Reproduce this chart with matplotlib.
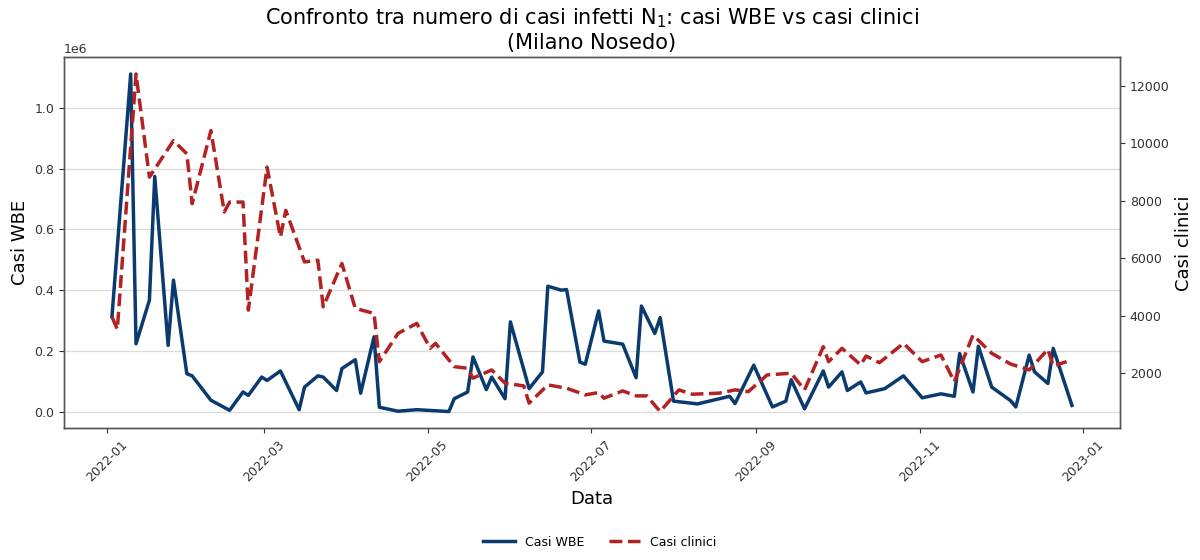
import matplotlib
matplotlib.use("Agg")
import matplotlib.pyplot as plt
import matplotlib.dates as mdates
import pandas as pd

# Wastewater-based estimate of infected cases (N1 gene), Milano Nosedo
wbe_dates = [
    "2022-01-03", "2022-01-10", "2022-01-12", "2022-01-17", "2022-01-19",
    "2022-01-24", "2022-01-26", "2022-01-31", "2022-02-02", "2022-02-09",
    "2022-02-16", "2022-02-21", "2022-02-23", "2022-02-28", "2022-03-02",
    "2022-03-07", "2022-03-14", "2022-03-16", "2022-03-21", "2022-03-23",
    "2022-03-28", "2022-03-30", "2022-04-04", "2022-04-06", "2022-04-11",
    "2022-04-13", "2022-04-20", "2022-04-27", "2022-05-09", "2022-05-11",
    "2022-05-16", "2022-05-18", "2022-05-23", "2022-05-25", "2022-05-30",
    "2022-06-01", "2022-06-08", "2022-06-13", "2022-06-15", "2022-06-20",
    "2022-06-22", "2022-06-27", "2022-06-29", "2022-07-04", "2022-07-06",
    "2022-07-13", "2022-07-18", "2022-07-20", "2022-07-25", "2022-07-27",
    "2022-08-01", "2022-08-10", "2022-08-22", "2022-08-24", "2022-08-31",
    "2022-09-07", "2022-09-12", "2022-09-14", "2022-09-19", "2022-09-26",
    "2022-09-28", "2022-10-03", "2022-10-05", "2022-10-10", "2022-10-12",
    "2022-10-19", "2022-10-26", "2022-11-02", "2022-11-09", "2022-11-14",
    "2022-11-16", "2022-11-21", "2022-11-23", "2022-11-28", "2022-12-05",
    "2022-12-07", "2022-12-12", "2022-12-14", "2022-12-19", "2022-12-21",
    "2022-12-28",
]
wbe_cases = [
    314000, 1110000, 225000, 368000, 774000,
    220000, 434000, 127000, 120000, 40000,
    7000, 67000, 56000, 116000, 105000,
    136000, 9000, 83000, 120000, 116000,
    72000, 144000, 173000, 63000, 248000,
    17000, 4000, 9000, 3000, 45000,
    67000, 182000, 75000, 116000, 45000,
    297000, 78000, 133000, 414000, 401000,
    403000, 165000, 158000, 333000, 234000,
    224000, 114000, 349000, 259000, 311000,
    37000, 28000, 53000, 29000, 155000,
    18000, 37000, 107000, 12000, 136000,
    83000, 133000, 72000, 100000, 64000,
    78000, 120000, 48000, 61000, 53000,
    193000, 67000, 217000, 83000, 39000,
    18000, 188000, 133000, 95000, 210000,
    23000,
]

# Reported clinical cases
clin_dates = [
    "2022-01-03", "2022-01-05", "2022-01-12", "2022-01-17", "2022-01-26",
    "2022-01-31", "2022-02-02", "2022-02-09", "2022-02-14", "2022-02-16",
    "2022-02-21", "2022-02-23", "2022-03-02", "2022-03-07", "2022-03-09",
    "2022-03-16", "2022-03-21", "2022-03-23", "2022-03-30", "2022-04-04",
    "2022-04-11", "2022-04-13", "2022-04-20", "2022-04-27", "2022-05-02",
    "2022-05-04", "2022-05-11", "2022-05-16", "2022-05-18", "2022-05-25",
    "2022-05-30", "2022-06-06", "2022-06-08", "2022-06-15", "2022-06-22",
    "2022-06-29", "2022-07-04", "2022-07-06", "2022-07-13", "2022-07-18",
    "2022-07-22", "2022-07-27", "2022-08-03", "2022-08-08", "2022-08-18",
    "2022-08-24", "2022-08-29", "2022-09-05", "2022-09-14", "2022-09-19",
    "2022-09-26", "2022-09-28", "2022-10-03", "2022-10-10", "2022-10-12",
    "2022-10-17", "2022-10-26", "2022-11-02", "2022-11-09", "2022-11-14",
    "2022-11-21", "2022-11-28", "2022-12-05", "2022-12-12", "2022-12-19",
    "2022-12-21", "2022-12-26",
]
clin_cases = [
    3965, 3528, 12409, 8822, 10090,
    9633, 7899, 10442, 7608, 7955,
    7955, 4197, 9169, 6740, 7666,
    5873, 5932, 4312, 5818, 4256,
    4083, 2404, 3389, 3736, 2869,
    3042, 2231, 2175, 1830, 2116,
    1655, 1561, 961, 1596, 1481,
    1249, 1329, 1134, 1388, 1214,
    1214, 670, 1422, 1272, 1308,
    1422, 1363, 1943, 2002, 1422,
    2924, 2404, 2869, 2290, 2600,
    2369, 3042, 2404, 2636, 1710,
    3330, 2695, 2324, 2116, 2834,
    2255, 2404,
]

BLUE = "#0b3a6e"
RED = "#b22222"

fig = plt.figure(figsize=(12, 5.6), dpi=100)
ax1 = fig.add_axes([0.0533, 0.235, 0.88, 0.663])
ax2 = ax1.twinx()

l1, = ax1.plot(pd.to_datetime(wbe_dates), wbe_cases, color=BLUE, lw=2.5,
               label="Casi WBE")
l2, = ax2.plot(pd.to_datetime(clin_dates), clin_cases, color=RED, lw=2.5,
               ls="--", label="Casi clinici")

ax1.grid(axis="y", color="#dcdcdc", lw=1.0)
ax1.set_axisbelow(True)

ax1.xaxis.set_major_locator(mdates.MonthLocator(bymonth=[1, 3, 5, 7, 9, 11]))
ax1.xaxis.set_major_formatter(mdates.DateFormatter("%Y-%m"))
for lab in ax1.get_xticklabels():
    lab.set_rotation(45)
    lab.set_ha("center")

for ax in (ax1, ax2):
    ax.tick_params(labelsize=9, colors="#333333")
    for sp in ax.spines.values():
        sp.set_color("#555555")
        sp.set_linewidth(1.0)
ax1.yaxis.get_offset_text().set_fontsize(9)

ax1.set_xlabel("Data", fontsize=13)
ax1.set_ylabel("Casi WBE", fontsize=13)
ax2.set_ylabel("Casi clinici", fontsize=13)
ax1.set_title("Confronto tra numero di casi infetti N$_1$: casi WBE vs casi clinici\n(Milano Nosedo)",
              fontsize=15)

fig.legend(handles=[l1, l2], loc="lower center", bbox_to_anchor=(0.5, 0.0),
           ncol=2, frameon=False, fontsize=9, handlelength=2.5)

fig.savefig("out.png", dpi=100)
